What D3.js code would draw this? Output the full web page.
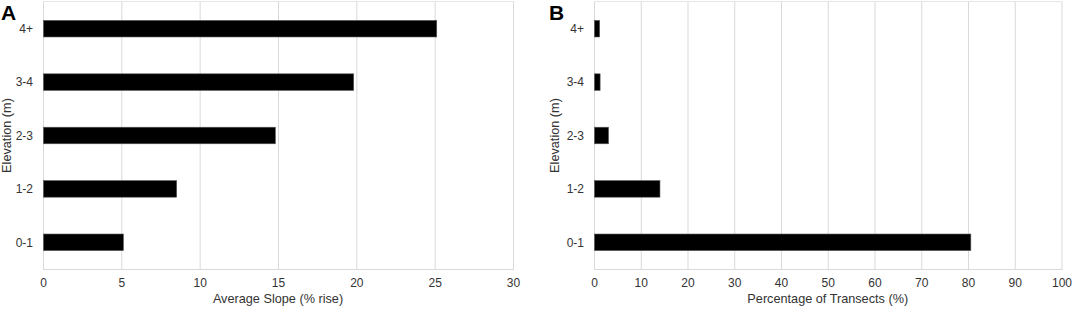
<!DOCTYPE html>
<html>
<head>
<meta charset="utf-8">
<script src="https://cdn.jsdelivr.net/npm/d3@7"></script>
<style>
  body { margin: 0; background: #fff; }
  text { font-family: Arial, "Liberation Sans", sans-serif; }
</style>
</head>
<body>
<div id="chart"></div>
<script>
// Elevation classes, top to bottom
const elevations = ["4+", "3-4", "2-3", "1-2", "0-1"];

// Panel A: average slope (% rise)
const slopeValues = [25.1, 19.8, 14.8, 8.5, 5.1];
const slopeTicks = [0, 5, 10, 15, 20, 25, 30];

// Panel B: percentage of transects (%)
const transectValues = [1.1, 1.2, 3.0, 14.0, 80.5];
const transectTicks = [0, 10, 20, 30, 40, 50, 60, 70, 80, 90, 100];

const W = 1072, H = 309;

const svg = d3.select("#chart")
    .append("svg")
    .attr("width", W)
    .attr("height", H);

function drawPanel(opts) {
    const { letter, values, ticks, max, x0, x1, title, letterX } = opts;
    const top = 2, bottom = 269;

    const x = d3.scaleLinear().domain([0, max]).range([x0, x1]);
    const y = d3.scaleBand().domain(elevations).range([top, bottom]).paddingInner(0.69).paddingOuter(0.345);

    const g = svg.append("g");

    // gridlines
    g.selectAll("line.grid")
        .data(ticks)
        .enter()
        .append("line")
        .attr("x1", d => x(d) + 0.5)
        .attr("x2", d => x(d) + 0.5)
        .attr("y1", top)
        .attr("y2", bottom)
        .attr("stroke", "#d9d9d9")
        .attr("stroke-width", 1);

    // top border and bottom axis line
    g.append("line")
        .attr("x1", x0).attr("x2", x1 + 1)
        .attr("y1", top - 0.5).attr("y2", top - 0.5)
        .attr("stroke", "#e6e6e6");
    g.append("line")
        .attr("x1", x0).attr("x2", x1 + 1)
        .attr("y1", bottom + 0.5).attr("y2", bottom + 0.5)
        .attr("stroke", "#d9d9d9");

    // bars
    g.selectAll("rect")
        .data(values)
        .enter()
        .append("rect")
        .attr("x", x(0) + 0.5)
        .attr("y", (d, i) => y(elevations[i]))
        .attr("width", d => x(d) - x(0))
        .attr("height", y.bandwidth())
        .attr("fill", "#000")
        .attr("stroke", "#555")
        .attr("stroke-width", 0.6);

    // y tick labels
    g.selectAll("text.ylab")
        .data(elevations)
        .enter()
        .append("text")
        .attr("x", x0 - 10)
        .attr("y", d => y(d) + y.bandwidth() / 2)
        .attr("dy", "0.35em")
        .attr("text-anchor", "end")
        .attr("font-size", 12)
        .attr("fill", "#333")
        .text(d => d);

    // x tick labels
    g.selectAll("text.xlab")
        .data(ticks)
        .enter()
        .append("text")
        .attr("x", d => x(d) + 0.5)
        .attr("y", 287)
        .attr("text-anchor", "middle")
        .attr("font-size", 12)
        .attr("fill", "#333")
        .text(d => d);

    // x title
    g.append("text")
        .attr("x", (x0 + x1) / 2)
        .attr("y", 303)
        .attr("text-anchor", "middle")
        .attr("font-size", 12.7)
        .attr("fill", "#333")
        .text(title);

    // y title
    g.append("text")
        .attr("transform", `translate(${letterX + 9.5},${(top + bottom) / 2}) rotate(-90)`)
        .attr("text-anchor", "middle")
        .attr("font-size", 12.7)
        .attr("fill", "#333")
        .text("Elevation (m)");

    // panel letter
    g.append("text")
        .attr("x", letterX)
        .attr("y", 20)
        .attr("font-size", 21)
        .attr("font-weight", "bold")
        .attr("fill", "#000")
        .text(letter);
}

drawPanel({
    letter: "A", values: slopeValues, ticks: slopeTicks, max: 30,
    x0: 43, x1: 513, title: "Average Slope (% rise)", letterX: 1
});

drawPanel({
    letter: "B", values: transectValues, ticks: transectTicks, max: 100,
    x0: 594, x1: 1061.5, title: "Percentage of Transects (%)", letterX: 549
});
</script>
</body>
</html>
